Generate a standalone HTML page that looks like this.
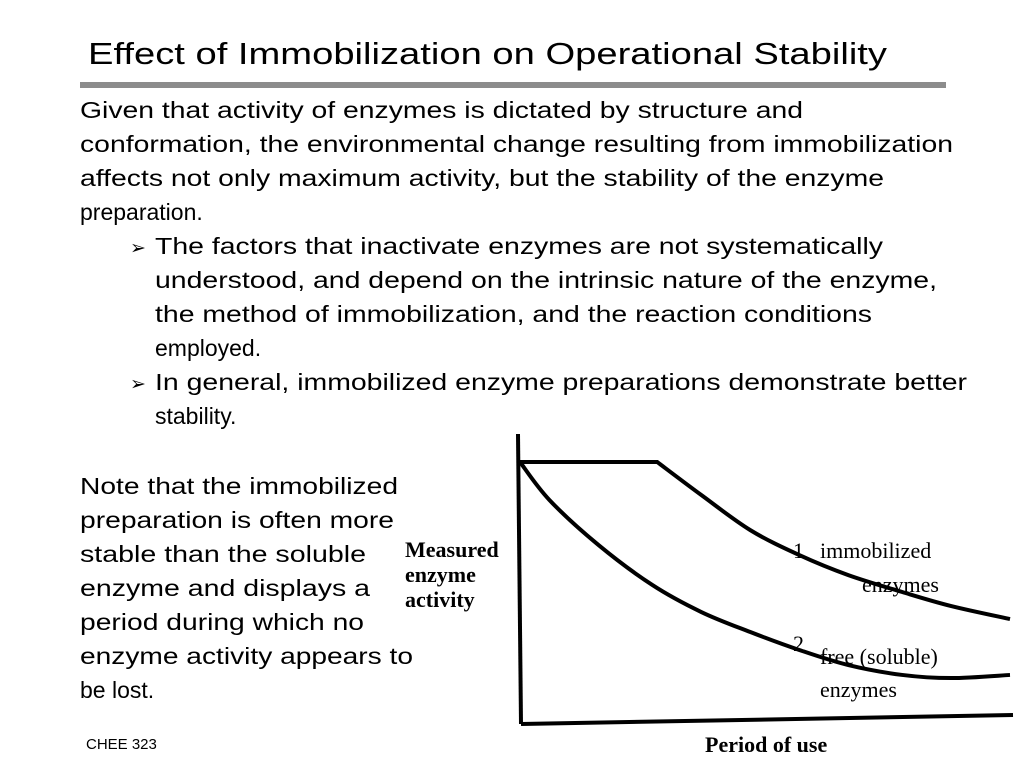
<!DOCTYPE html>
<html><head><meta charset="utf-8"><style>
html,body{margin:0;padding:0;background:#fff;}
svg{display:block;}
.s{font-family:"Liberation Sans",Arial,sans-serif;font-size:23px;fill:#000;}
.r{font-family:"Liberation Serif","Times New Roman",serif;font-size:22px;fill:#000;}
</style></head><body>
<svg width="1024" height="768" viewBox="0 0 1024 768">
<text class="s" x="88" y="64" style="font-size:31px" textLength="799" lengthAdjust="spacingAndGlyphs">Effect of Immobilization on Operational Stability</text>
<rect x="80" y="82" width="866" height="6" fill="#8c8c8c"/>
<g>
<text class="s" x="80" y="118" textLength="723" lengthAdjust="spacingAndGlyphs">Given that activity of enzymes is dictated by structure and</text>
<text class="s" x="80" y="152" textLength="873" lengthAdjust="spacingAndGlyphs">conformation, the environmental change resulting from immobilization</text>
<text class="s" x="80" y="186" textLength="804" lengthAdjust="spacingAndGlyphs">affects not only maximum activity, but the stability of the enzyme</text>
<text class="s" x="80" y="220">preparation.</text>
<text class="s" x="130" y="254" style="font-size:19px">➢</text>
<text class="s" x="155" y="254" textLength="728" lengthAdjust="spacingAndGlyphs">The factors that inactivate enzymes are not systematically</text>
<text class="s" x="155" y="288" textLength="782" lengthAdjust="spacingAndGlyphs">understood, and depend on the intrinsic nature of the enzyme,</text>
<text class="s" x="155" y="322" textLength="717" lengthAdjust="spacingAndGlyphs">the method of immobilization, and the reaction conditions</text>
<text class="s" x="155" y="356">employed.</text>
<text class="s" x="130" y="390" style="font-size:19px">➢</text>
<text class="s" x="155" y="390" textLength="812" lengthAdjust="spacingAndGlyphs">In general, immobilized enzyme preparations demonstrate better</text>
<text class="s" x="155" y="424">stability.</text>
</g>
<g>
<text class="s" x="80" y="494" textLength="318" lengthAdjust="spacingAndGlyphs">Note that the immobilized</text>
<text class="s" x="80" y="528" textLength="314" lengthAdjust="spacingAndGlyphs">preparation is often more</text>
<text class="s" x="80" y="562" textLength="286" lengthAdjust="spacingAndGlyphs">stable than the soluble</text>
<text class="s" x="80" y="596" textLength="290" lengthAdjust="spacingAndGlyphs">enzyme and displays a</text>
<text class="s" x="80" y="630" textLength="284" lengthAdjust="spacingAndGlyphs">period during which no</text>
<text class="s" x="80" y="664" textLength="333" lengthAdjust="spacingAndGlyphs">enzyme activity appears to</text>
<text class="s" x="80" y="698">be lost.</text>
</g>
<text class="s" x="86" y="749" style="font-size:15px">CHEE 323</text>
<g id="chart">
<line x1="518" y1="434" x2="521" y2="724" stroke="#000" stroke-width="4"/>
<line x1="521" y1="724" x2="1013" y2="715" stroke="#000" stroke-width="4"/>
<g font-weight="bold">
<text class="r" x="405" y="557">Measured</text>
<text class="r" x="405" y="582">enzyme</text>
<text class="r" x="405" y="607">activity</text>
</g>
<text class="r" x="705" y="752" font-weight="bold">Period of use</text>
<text class="r" x="793" y="558">1</text>
<text class="r" x="820" y="558">immobilized</text>
<text class="r" x="862" y="592">enzymes</text>
<text class="r" x="793" y="651">2</text>
<text class="r" x="820" y="664">free (soluble)</text>
<text class="r" x="820" y="697">enzymes</text>
</g>
</svg>
<script>
const immobTime = [0, 2.8, 3.7, 4.7, 5.7, 6.7, 7.8, 8.8, 10];
const immobActivity = [100, 100, 87.3, 73.8, 64.2, 56.5, 50, 44.6, 39.6];
const freeTime = [0, 0.6, 1.6, 2.7, 3.7, 4.7, 5.7, 6.7, 7.8, 8.8, 10];
const freeActivity = [100, 85.4, 68.1, 52.7, 42.3, 34.6, 27.7, 21.9, 18.1, 16.9, 18.1];
function xs(t){return 520 + t*49;}
function ys(a){return 722 - a*2.6;}
function pathFor(ts, as, smoothFrom){
  const p = ts.map((t,i)=>[xs(t), ys(as[i])]);
  let d = 'M'+p[0][0]+','+p[0][1];
  for(let i=1;i<p.length;i++){
    if(i<=smoothFrom){ d+=' L'+p[i][0]+','+p[i][1]; continue; }
    const p0=p[Math.max(i-2,smoothFrom-1<0?0:i-2)]||p[i-1], p1=p[i-1], p2=p[i], p3=p[i+1]||p[i];
    const a = (i-1===smoothFrom)? p1 : p0;
    const c1=[p1[0]+(p2[0]-a[0])/6, p1[1]+(p2[1]-a[1])/6];
    const c2=[p2[0]-(p3[0]-p1[0])/6, p2[1]-(p3[1]-p1[1])/6];
    d+=' C'+c1[0]+','+c1[1]+' '+c2[0]+','+c2[1]+' '+p2[0]+','+p2[1];
  }
  return d;
}
const svgNS='http://www.w3.org/2000/svg';
const chart=document.getElementById('chart');
const c1=document.createElementNS(svgNS,'path');
c1.setAttribute('d', pathFor(immobTime, immobActivity, 1));
c1.setAttribute('fill','none');c1.setAttribute('stroke','#000');c1.setAttribute('stroke-width','4');


chart.appendChild(c1);
const c2=document.createElementNS(svgNS,'path');
c2.setAttribute('d', pathFor(freeTime, freeActivity, 0));
c2.setAttribute('fill','none');c2.setAttribute('stroke','#000');c2.setAttribute('stroke-width','4');


chart.appendChild(c2);
</script>
</body></html>
